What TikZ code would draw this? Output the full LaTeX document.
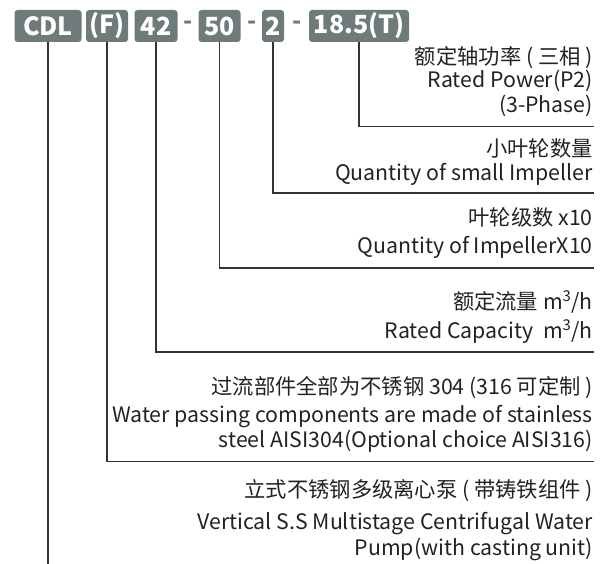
\documentclass[tikz,border=0pt]{standalone}
\usepackage{fontspec}
\setmainfont{Noto Sans CJK SC}
\definecolor{boxgray}{HTML}{6F7B7B}
\definecolor{txt}{HTML}{222222}
\definecolor{ln}{HTML}{333333}
\tikzset{
  codebox/.style={fill=boxgray, rounded corners=3pt, text=white, font=\fontsize{25}{25}\selectfont\bfseries, inner sep=0pt, minimum height=32pt},
  dashlbl/.style={text=boxgray, font=\fontsize{24}{24}\selectfont\bfseries, inner sep=0pt},
  lbl/.style={anchor=base east, text=txt, font=\fontsize{21.3}{21.3}\selectfont, inner sep=0pt},
  leader/.style={draw=ln, line width=1.3pt},
}
\begin{document}
\begin{tikzpicture}[x=1pt,y=-1pt]
\useasboundingbox (0,0) rectangle (611,564);
% code boxes
\node[codebox, minimum width=67pt] (bcdl) at (48,26) {CDL};
\node[codebox, minimum width=42pt] (bf) at (107,26) {(F)};
\node[codebox, minimum width=43pt] (b42) at (156,26) {42};
\node[dashlbl] (d1) at (188,25) {-};
\node[codebox, minimum width=42pt] (b50) at (219.5,26) {50};
\node[dashlbl] (d2) at (252,25) {-};
\node[codebox, minimum width=22pt] (b2) at (273,26) {2};
\node[dashlbl] (d3) at (297,25) {-};
\node[codebox, minimum width=100pt] (b185) at (359,26) {18.5(T)};
% line end points
\coordinate (r1) at (594,126.5);
\coordinate (r2) at (594,193);
\coordinate (r3) at (594,268);
\coordinate (r4) at (594,352);
\coordinate (r5) at (594,461.5);
\coordinate (r6) at (48,564);
% leaders
\draw[leader] (b185.south) |- (r1);
\draw[leader] (b2.south) |- (r2);
\draw[leader] (b50.south) |- (r3);
\draw[leader] (b42.south) |- (r4);
\draw[leader] (bf.south) |- (r5);
\draw[leader] (bcdl.south) -- (r6);
% labels
\node[lbl] (t1a) at (593,65) {额定轴功率 ( 三相 )};
\node[lbl] (t1b) at (593,88) {Rated Power(P2)};
\node[lbl] (t1c) at (593,113) {(3-Phase)};
\node[lbl] (t2a) at (593,157) {小叶轮数量};
\node[lbl] (t2b) at (593,181) {Quantity of small Impeller};
\node[lbl] (t3a) at (593,226) {叶轮级数 x10};
\node[lbl] (t3b) at (593,254) {Quantity of ImpellerX10};
\node[lbl] (t4a) at (593,309) {额定流量 m\textsuperscript{3}/h};
\node[lbl] (t4b) at (593,338) {Rated Capacity\ \ m\textsuperscript{3}/h};
\node[lbl] (t5a) at (593,394) {过流部件全部为不锈钢 304 (316 可定制 )};
\node[lbl] (t5b) at (593,422) {Water passing components are made of stainless};
\node[lbl] (t5c) at (593,447) {steel AISI304(Optional choice AISI316)};
\node[lbl] (t6a) at (593,497) {立式不锈钢多级离心泵 ( 带铸铁组件 )};
\node[lbl] (t6b) at (593,529) {Vertical S.S Multistage Centrifugal Water};
\node[lbl] (t6c) at (593,555) {Pump(with casting unit)};
\end{tikzpicture}
\end{document}
